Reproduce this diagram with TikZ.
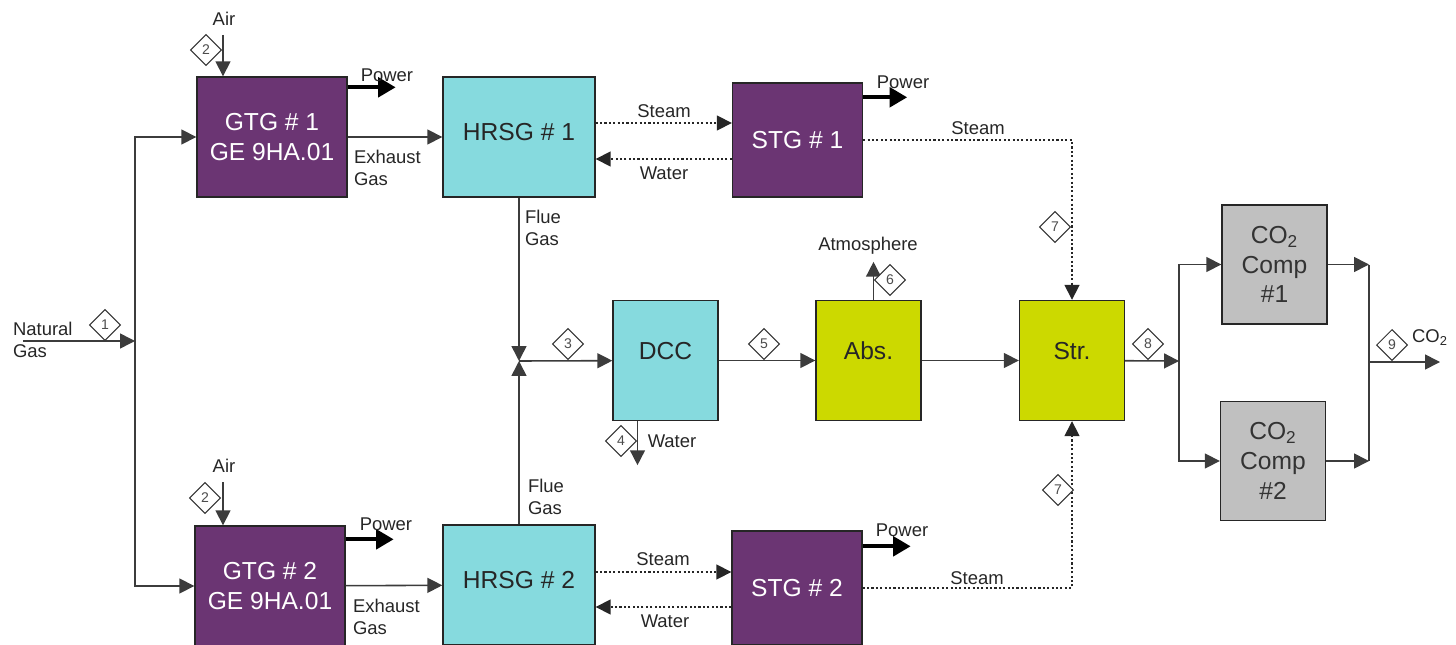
\documentclass[tikz,border=0pt]{standalone}
\usepackage{fontspec}
\setmainfont{Liberation Sans}
\usetikzlibrary{shapes.geometric, arrows.meta, positioning, calc}
\definecolor{turbinebg}{HTML}{6B3573}
\definecolor{hrsgbg}{HTML}{86DADE}
\definecolor{capturebg}{HTML}{CCD900}
\definecolor{compbg}{HTML}{C0C0C0}
\definecolor{pipecol}{HTML}{3C3C3C}

\begin{document}
\begin{tikzpicture}[
    x=0.02cm, y=-0.02cm,
    % 1. process units
    unit/.style={
        draw=black!85,
        line width=0.8pt,
        align=center,
        inner sep=0pt,
        font=\fontsize{14}{17}\selectfont
    },
    gtgbox/.style={unit, fill=turbinebg, text=white, minimum width=3cm, minimum height=2.4cm},
    stgbox/.style={unit, fill=turbinebg, text=white, minimum width=2.6cm, minimum height=2.28cm},
    hrsgbox/.style={unit, fill=hrsgbg, text=black!85, minimum width=3.04cm, minimum height=2.4cm, text depth=0.2cm},
    columnbox/.style={unit, text=black!85, minimum width=2.1cm, minimum height=2.4cm, text depth=0.4cm},
    compbox/.style={unit, fill=compbg, text=black!80, minimum width=2.1cm, minimum height=2.38cm},
    % 2. stream numbers and labels
    stream/.style={
        diamond,
        draw=black!80,
        fill=white,
        line width=0.6pt,
        minimum size=0.62cm,
        inner sep=0pt,
        font=\fontsize{8}{8}\selectfont,
        text=black!70
    },
    note/.style={inner sep=1pt, font=\fontsize{10.5}{12.5}\selectfont, text=black!85},
    % 3. connectors
    pipe/.style={draw=pipecol, line width=0.9pt},
    flow/.style={pipe, -{Triangle[length=8.5pt, width=8.5pt]}},
    steamflow/.style={draw=black!85, line width=0.9pt, dash pattern=on 1.2pt off 1.3pt, -{Triangle[length=8.5pt, width=8.5pt]}},
    power/.style={draw=black, line width=2.4pt, -{Triangle[length=10pt, width=11pt]}}
]
    \useasboundingbox (0,0) rectangle (1456,645);

    % --- 1. units ---
    \node[gtgbox] (gtg1) at (272,137) {GTG \# 1\\GE 9HA.01};
    \node[hrsgbox] (hrsg1) at (519,137) {HRSG \# 1};
    \node[stgbox] (stg1) at (797.5,140) {STG \# 1};

    \node[gtgbox] (gtg2) at (270,586) {GTG \# 2\\GE 9HA.01};
    \node[hrsgbox] (hrsg2) at (519,585) {HRSG \# 2};
    \node[stgbox] (stg2) at (797,588) {STG \# 2};

    \node[columnbox, fill=hrsgbg] (dcc) at (665.5,360.5) {DCC};
    \node[columnbox, fill=capturebg] (abs) at (868.5,360.5) {Abs.};
    \node[columnbox, fill=capturebg] (str) at (1072,360.5) {Str.};

    \node[compbox] (comp1) at (1274.5,264.5) {CO\textsubscript{2}\\Comp\\\#1};
    \node[compbox] (comp2) at (1273,461) {CO\textsubscript{2}\\Comp\\\#2};

    % --- 2. junction points ---
    \coordinate (ngin) at (23,341);
    \coordinate (ngsplit) at (135,341);
    \coordinate (airin1) at (223,35);
    \coordinate (airin2) at (223,482);
    \coordinate (mix) at (519,361);
    \coordinate (split) at (1179,361);
    \coordinate (merge) at (1369,362);
    \coordinate (co2out) at (1440,362);

    % --- 3. natural gas and air ---
    \draw[flow] (ngin) -- (ngsplit);
    \draw[flow] (ngsplit) |- (gtg1);
    \draw[flow] (ngsplit) |- (gtg2);
    \draw[flow] (airin1) -- (airin1 |- gtg1.north);
    \draw[flow] (airin2) -- (airin2 |- gtg2.north);

    \node[note, anchor=west, align=left] (nglabel) at (11,340) {Natural\\Gas};
    \node[note] (air1) at (224,19) {Air};
    \node[note] (air2) at (224,466) {Air};
    \node[stream] (s1) at (105,325) {1};
    \node[stream] (s2a) at (206,50) {2};
    \node[stream] (s2b) at (205,498) {2};

    % --- 4. power trains ---
    \draw[power] ($(gtg1.north east)+(0,11)$) -- ++(48,0);
    \draw[power] ($(gtg2.north east)+(0,14)$) -- ++(48,0);
    \draw[power] ($(stg1.north east)+(0,15)$) -- ++(44,0);
    \draw[power] ($(stg2.north east)+(0,16)$) -- ++(48,0);
    \node[note] (pow1) at (387,75) {Power};
    \node[note] (pow2) at (386,524) {Power};
    \node[note] (pow3) at (903,82) {Power};
    \node[note] (pow4) at (902,530) {Power};

    \draw[flow] (gtg1) -- (hrsg1);
    \draw[flow] (gtg2) -- (hrsg2);
    \node[note, anchor=west, align=left] (exh1) at (352,168) {Exhaust\\Gas};
    \node[note, anchor=west, align=left] (exh2) at (351,617) {Exhaust\\Gas};

    \draw[steamflow] ($(hrsg1.east)+(0,-14)$) -- ($(stg1.west)+(0,-17)$);
    \draw[steamflow] ($(stg1.west)+(0,19)$) -- ($(hrsg1.east)+(0,22)$);
    \draw[steamflow] ($(hrsg2.east)+(0,-13)$) -- ($(stg2.west)+(0,-16)$);
    \draw[steamflow] ($(stg2.west)+(0,19)$) -- ($(hrsg2.east)+(0,22)$);
    \node[note] (st1) at (664,111) {Steam};
    \node[note] (wa1) at (664,173) {Water};
    \node[note] (st2) at (663,559) {Steam};
    \node[note] (wa2) at (665,621) {Water};

    % --- 5. flue gas train ---
    \draw[flow] (hrsg1) -- (mix);
    \draw[flow] (hrsg2) -- (mix);
    \draw[flow] (mix) -- (dcc);
    \draw[flow] (dcc) -- (abs);
    \draw[flow] (abs) -- (str);
    \draw[flow] ($(dcc.south)+(-28,0)$) -- ++(0,44);
    \draw[flow] ($(abs.north)+(5,0)$) -- ++(0,-38);
    \node[note, anchor=west, align=left] (flue1) at (523,228) {Flue\\Gas};
    \node[note, anchor=west, align=left] (flue2) at (526,497) {Flue\\Gas};
    \node[note] (wa3) at (672,441) {Water};
    \node[note] (atm) at (868,246) {Atmosphere};
    \node[stream] (s3) at (568,344) {3};
    \node[stream] (s4) at (621,441) {4};
    \node[stream] (s5) at (764,344) {5};
    \node[stream] (s6) at (890,280) {6};

    % --- 6. stripper steam ---
    \draw[steamflow] (stg1) -| (str);
    \draw[steamflow] (stg2) -| (str);
    \node[note] (st3) at (978,128) {Steam};
    \node[note] (st4) at (977,578) {Steam};
    \node[stream] (s7a) at (1055,227) {7};
    \node[stream] (s7b) at (1058,490) {7};

    % --- 7. CO2 compression ---
    \draw[flow] (str) -- (split);
    \draw[flow] (split) |- (comp1);
    \draw[flow] (split) |- (comp2);
    \draw[flow] (comp1) -- (comp1 -| merge);
    \draw[flow] (comp2) -- (comp2 -| merge);
    \draw[pipe] (comp1 -| merge) -- (comp2 -| merge);
    \draw[flow] (merge) -- (co2out);
    \node[stream] (s8) at (1148,344) {8};
    \node[stream] (s9) at (1392,345) {9};
    \node[note] (co2) at (1430,338) {CO\textsubscript{2}};

\end{tikzpicture}
\end{document}
